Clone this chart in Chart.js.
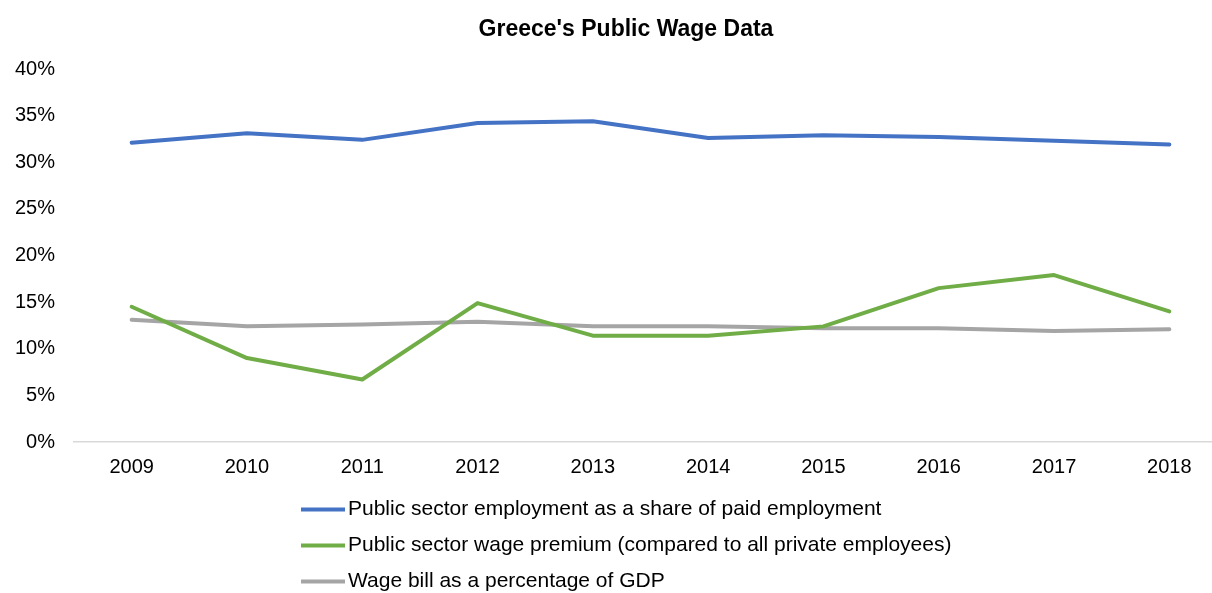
<!DOCTYPE html>
<html>
<head>
<meta charset="utf-8">
<script src="https://cdn.jsdelivr.net/npm/chart.js@4.4.1/dist/chart.umd.min.js"></script>
<style>
  html, body { margin: 0; padding: 0; background: #fff; overflow: hidden; }
  #wrap { position: relative; width: 1252px; height: 593px; }
</style>
</head>
<body>
<div id="wrap"><canvas id="c" width="1252" height="593"></canvas></div>
<script>
const categories = ['2009','2010','2011','2012','2013','2014','2015','2016','2017','2018'];
const employmentShare = [32.1, 33.1, 32.4, 34.2, 34.4, 32.6, 32.9, 32.7, 32.3, 31.9];
const wagePremium     = [14.5, 9.0, 6.7, 14.9, 11.4, 11.4, 12.4, 16.5, 17.9, 14.0];
const wageBillGDP     = [13.1, 12.4, 12.6, 12.9, 12.4, 12.4, 12.2, 12.2, 11.9, 12.1];
const seriesLabels = [
  'Public sector employment as a share of paid employment',
  'Public sector wage premium (compared to all private employees)',
  'Wage bill as a percentage of GDP'
];
const seriesColors = ['#4472C4', '#70AD47', '#A5A5A5'];
const titleText = "Greece's Public Wage Data";

const FONT = "'Liberation Sans', Arial, sans-serif";

const titleAndLegendPlugin = {
  id: 'titleAndLegend',
  afterDraw(chart) {
    const ctx = chart.ctx;
    ctx.save();
    ctx.fillStyle = '#000';
    ctx.font = 'bold 23px ' + FONT;
    ctx.textAlign = 'center';
    ctx.textBaseline = 'middle';
    ctx.fillText(titleText, 626, 30);
    chart.data.datasets.forEach((ds, i) => {
      const y = 509.5 + i * 36;
      ctx.strokeStyle = ds.borderColor;
      ctx.lineWidth = 4;
      ctx.lineCap = 'butt';
      ctx.beginPath();
      ctx.moveTo(301, y);
      ctx.lineTo(345, y);
      ctx.stroke();
      ctx.fillStyle = '#000';
      ctx.font = '21px ' + FONT;
      ctx.textAlign = 'left';
      ctx.textBaseline = 'middle';
      ctx.fillText(ds.label, 348, y);
    });
    ctx.restore();
  }
};

new Chart(document.getElementById('c'), {
  type: 'line',
  data: {
    labels: categories,
    datasets: [
      { label: seriesLabels[0], data: employmentShare, borderColor: seriesColors[0], backgroundColor: seriesColors[0] },
      { label: seriesLabels[1], data: wagePremium, borderColor: seriesColors[1], backgroundColor: seriesColors[1] },
      { label: seriesLabels[2], data: wageBillGDP, borderColor: seriesColors[2], backgroundColor: seriesColors[2] }
    ]
  },
  options: {
    responsive: false,
    animation: false,
    devicePixelRatio: 1,
    elements: {
      line: { borderWidth: 4, tension: 0, borderCapStyle: 'round', borderJoinStyle: 'round' },
      point: { radius: 0, hoverRadius: 0 }
    },
    layout: { padding: { top: 69, left: 0, right: 25, bottom: 115 } },
    plugins: {
      legend: { display: false },
      tooltip: { enabled: false },
      title: { display: false }
    },
    scales: {
      x: {
        offset: true,
        grid: { display: false, drawTicks: false },
        border: { display: true, color: '#D9D9D9', width: 1.5 },
        afterFit(scale) { scale.height = 36; },
        ticks: { color: '#000', font: { family: FONT, size: 20 }, padding: 13, maxRotation: 0 }
      },
      y: {
        min: 0, max: 40,
        grid: { display: false, drawTicks: false },
        border: { display: false },
        afterFit(scale) { scale.width = 74; },
        ticks: {
          stepSize: 5,
          color: '#000',
          font: { family: FONT, size: 20 },
          padding: 19,
          callback: v => v + '%'
        }
      }
    }
  },
  plugins: [titleAndLegendPlugin]
});
</script>
</body>
</html>
